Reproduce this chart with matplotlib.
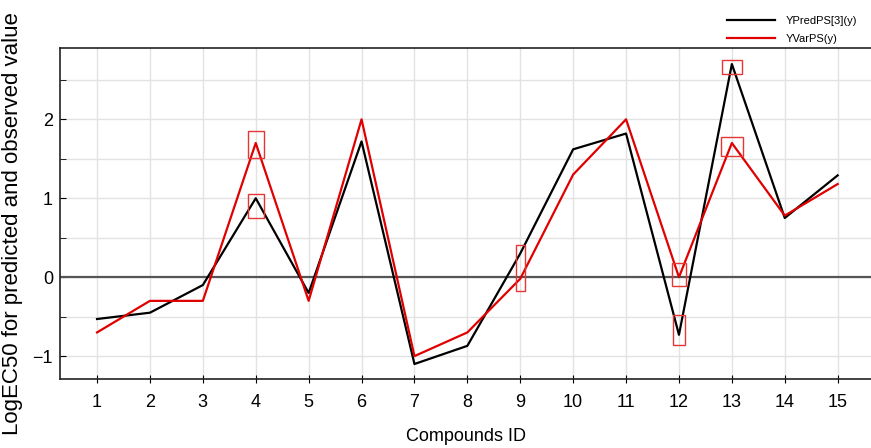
import matplotlib.pyplot as plt
from matplotlib.patches import Rectangle

plt.rcParams['font.family'] = ['Liberation Sans', 'DejaVu Sans']

compound_ids = list(range(1, 16))
y_pred = [-0.53, -0.45, -0.10, 1.00, -0.20, 1.72, -1.10, -0.87, 0.30, 1.62, 1.82, -0.73, 2.70, 0.75, 1.29]
y_var = [-0.70, -0.30, -0.30, 1.70, -0.30, 2.00, -1.00, -0.70, -0.02, 1.30, 2.00, 0.00, 1.70, 0.78, 1.18]

# flagged compounds (outlier boxes): id, lower, upper, width
box_ids = [4, 4, 9, 12, 12, 13, 13]
box_lo = [1.51, 0.75, -0.18, -0.11, -0.86, 2.57, 1.53]
box_hi = [1.85, 1.06, 0.41, 0.18, -0.48, 2.75, 1.78]
box_w = [0.30, 0.30, 0.17, 0.26, 0.21, 0.38, 0.42]

fig = plt.figure(figsize=(8.71, 4.48), dpi=100)
ax = fig.add_axes([60 / 871, 1 - 379 / 448, 811 / 871, 331.5 / 448])

ax.set_xlim(0.30, 15.63)
ax.set_ylim(-1.29, 2.91)

ax.set_xticks(compound_ids)
ax.set_yticks([-1, 0, 1, 2])
ax.set_yticks([-1.0, -0.5, 0.5, 1.0, 1.5, 2.0, 2.5], minor=True)
ax.grid(True, which='both', color='#e2e2e2', linewidth=1.0)
ax.set_axisbelow(True)

ax.axhline(0, color='#555555', linewidth=1.6, zorder=1.5)

ax.plot(compound_ids, y_pred, color='black', linewidth=1.6, label='YPredPS[3](y)')
ax.plot(compound_ids, y_var, color='#e00000', linewidth=1.6, label='YVarPS(y)')

for cid, lo, hi, w in zip(box_ids, box_lo, box_hi, box_w):
    ax.add_patch(Rectangle((cid - w / 2, lo), w, hi - lo, fill=False,
                           edgecolor='#e53535', linewidth=1.0, zorder=3))

ax.spines['right'].set_visible(False)
for side in ['left', 'top', 'bottom']:
    ax.spines[side].set_linewidth(1.2)
    ax.spines[side].set_color('#222222')

ax.tick_params(axis='x', which='major', direction='inout', length=6, labelsize=13, pad=8)
ax.tick_params(axis='y', which='both', direction='in', length=4, labelsize=13, pad=5)

ax.set_xlabel('Compounds ID', fontsize=13, labelpad=12)
fig.text(13 / 871, 0.5, 'LogEC50 for predicted and observed value', rotation=90,
         fontsize=16, ha='center', va='center')

ax.legend(loc='upper left', bbox_to_anchor=(718 / 871, 1 - 7 / 448),
          bbox_transform=fig.transFigure, frameon=False, fontsize=8,
          handlelength=4.3, handletextpad=1.0, labelspacing=0.75, borderpad=0.3)

fig.savefig('out.png', dpi=100)
